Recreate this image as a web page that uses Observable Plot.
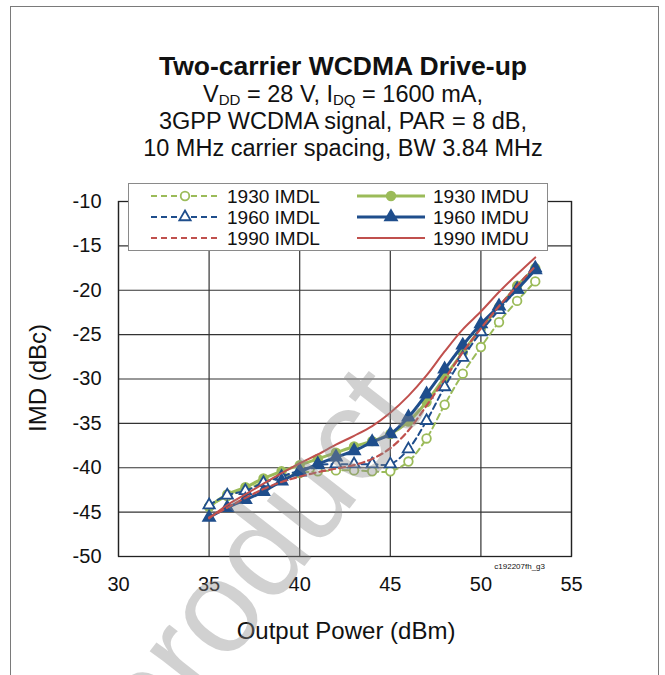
<!DOCTYPE html>
<html><head><meta charset="utf-8">
<script src="https://cdn.jsdelivr.net/npm/d3@7"></script>
<script src="https://cdn.jsdelivr.net/npm/@observablehq/plot@0.6"></script>
<style>
html,body{margin:0;padding:0;background:#fff;}
body{width:665px;height:675px;overflow:hidden;position:relative;font-family:"Liberation Sans",Arial,sans-serif;color:#111;}
#border{position:absolute;left:10px;top:6px;width:649px;height:720px;border:1px solid #7a7a7a;box-sizing:border-box;}
#chart{position:absolute;left:0;top:0;}
#title{position:absolute;left:21px;width:644px;top:51px;text-align:center;}
#title .t{font-weight:bold;font-size:26.5px;line-height:30px;}
#title .s{font-size:23.5px;line-height:27px;}
#title sub{font-size:0.64em;vertical-align:-0.2em;line-height:0;}
#ylab{position:absolute;left:38px;top:378px;transform:translate(-50%,-50%) rotate(-90deg);font-size:24px;white-space:nowrap;}
#xlab{position:absolute;left:346px;top:631px;transform:translate(-50%,-50%);font-size:24px;white-space:nowrap;}
#cap{position:absolute;left:440px;width:105px;top:562px;text-align:right;font-size:8px;}
#legend{position:absolute;left:0;top:0;}
#wm{position:absolute;left:0;top:0;pointer-events:none;}
</style></head><body>
<div id="border"></div>
<div id="chart"></div>
<div id="title">
  <div class="t">Two-carrier WCDMA Drive-up</div>
  <div class="s">V<sub>DD</sub> = 28 V, I<sub>DQ</sub> = 1600 mA,</div>
  <div class="s">3GPP WCDMA signal, PAR = 8 dB,</div>
  <div class="s">10 MHz carrier spacing, BW 3.84 MHz</div>
</div>
<div id="ylab">IMD (dBc)</div>
<div id="xlab">Output Power (dBm)</div>
<div id="cap">c192207fh_g3</div>
<svg id="legend" width="665" height="675"></svg>
<svg id="wm" width="665" height="675"></svg>
<script>
// ---- data ----
const powerDbm = [35,36,37,38,39,40,41,42,43,44,45,46,47,48,49,50,51,52,53];
const imdl1930 = [-44.4,-43.2,-42.5,-41.6,-41.0,-40.6,-40.4,-40.3,-40.3,-40.4,-40.4,-39.3,-36.7,-32.9,-29.4,-26.4,-23.6,-21.2,-19.0];
const imdu1930 = [-44.4,-43.0,-42.2,-41.2,-40.4,-39.7,-39.0,-38.3,-37.6,-37.0,-36.2,-34.8,-32.6,-29.8,-27.0,-24.3,-21.9,-19.5,-17.5];
const imdl1960 = [-44.2,-43.1,-42.6,-41.7,-41.0,-40.3,-39.7,-39.6,-39.6,-39.6,-39.6,-37.9,-34.7,-30.9,-27.6,-24.7,-22.2,-19.9,-17.5];
const imdu1960 = [-45.6,-44.5,-43.6,-42.7,-41.5,-40.5,-39.6,-38.8,-38.1,-37.1,-36.2,-34.3,-31.7,-28.9,-26.2,-23.8,-21.8,-19.9,-17.7];
const imdl1990 = [-45.6,-44.5,-43.4,-42.4,-41.6,-41.0,-40.5,-40.1,-39.7,-39.0,-37.8,-35.8,-33.0,-30.0,-27.0,-24.3,-21.8,-19.5,-17.3];
const imdu1990 = [-45.7,-44.2,-43.0,-41.8,-40.6,-39.5,-38.5,-37.4,-36.4,-35.3,-33.8,-31.9,-29.6,-26.9,-24.4,-22.4,-20.2,-18.2,-16.3];
const seriesNames = ["1930 IMDL","1930 IMDU","1960 IMDL","1960 IMDU","1990 IMDL","1990 IMDU"];
const xTicks = [30,35,40,45,50,55];
const yTicks = [-50,-45,-40,-35,-30,-25,-20,-15,-10];
const yTickLabels = ["-50","-45","-40","-35","-30","-25","-20","-15","-10"];

// ---- styles ----
const GREEN = "#9bbb59", BLUE = "#1f4e8c", RED = "#c0504d";
const styles = {
  "1930 IMDL": {color: GREEN, width: 2, dash: "6,4", symbol: "circle", fill: "white", r: 4.3},
  "1930 IMDU": {color: GREEN, width: 3, dash: null, symbol: "circle", fill: GREEN, r: 4.3},
  "1960 IMDL": {color: BLUE, width: 2, dash: "6,4", symbol: "triangle", fill: "white", r: 4.2},
  "1960 IMDU": {color: BLUE, width: 3, dash: null, symbol: "triangle", fill: BLUE, r: 4.4},
  "1990 IMDL": {color: RED, width: 2.2, dash: "6,4", symbol: null},
  "1990 IMDU": {color: RED, width: 2, dash: null, symbol: null}
};
const valuesBySeries = [imdl1930, imdu1930, imdl1960, imdu1960, imdl1990, imdu1990];
const table = seriesNames.map((name, k) => powerDbm.map((p, i) => ({series: name, p, v: valuesBySeries[k][i]})));

const marks = [
  Plot.gridX(xTicks, {stroke: "#333", strokeOpacity: 1, strokeWidth: 1.2}),
  Plot.gridY(yTicks, {stroke: "#333", strokeOpacity: 1, strokeWidth: 1.2}),
  Plot.frame({stroke: "#222", strokeWidth: 1.3}),
  Plot.axisX(xTicks, {tickSize: 0, tickPadding: 20, label: null, fontSize: 20}),
  Plot.axisY(yTicks, {tickSize: 0, tickPadding: 17, label: null, fontSize: 20, tickFormat: d => yTickLabels[yTicks.indexOf(d)]})
];
seriesNames.forEach((name, k) => {
  const st = styles[name];
  marks.push(Plot.line(table[k], {x: "p", y: "v", stroke: st.color, strokeWidth: st.width, strokeDasharray: st.dash, curve: "catmull-rom"}));
  if (st.symbol) {
    marks.push(Plot.dot(table[k], {x: "p", y: "v", symbol: st.symbol, r: st.r, fill: st.fill, stroke: st.color, strokeWidth: 1.8}));
  }
});

const chart = Plot.plot({
  width: 665, height: 675,
  marginTop: 201, marginBottom: 119, marginLeft: 118, marginRight: 94,
  style: {fontFamily: "'Liberation Sans', Arial, sans-serif", fontSize: "20px", color: "#111", background: "transparent", overflow: "visible"},
  x: {domain: [30, 55]},
  y: {domain: [-50, -10]},
  marks
});
document.getElementById("chart").appendChild(chart);

// ---- legend ----
const lg = d3.select("#legend");
lg.append("rect").attr("x", 128.5).attr("y", 183.5).attr("width", 419).attr("height", 67)
  .attr("fill", "white").attr("stroke", "#8a8a8a").attr("stroke-width", 1);
const legendCols = [151, 357];
const legendRows = [196, 217, 238];
seriesNames.forEach((name, k) => {
  const st = styles[name];
  const col = legendCols[k % 2], rowY = legendRows[Math.floor(k / 2)];
  const g = lg.append("g");
  g.append("line").attr("x1", col).attr("x2", col + 68).attr("y1", rowY).attr("y2", rowY)
    .attr("stroke", st.color).attr("stroke-width", st.width).attr("stroke-dasharray", st.dash);
  if (st.symbol) {
    const sym = st.symbol === "circle" ? d3.symbolCircle : d3.symbolTriangle;
    const size = Math.PI * st.r * st.r;
    g.append("path").attr("d", d3.symbol(sym, size)()).attr("transform", `translate(${col + 34},${rowY})`)
      .attr("fill", st.fill).attr("stroke", st.color).attr("stroke-width", 1.8);
  }
  g.append("text").attr("x", col + 76).attr("y", rowY).attr("dy", "0.35em")
    .attr("font-size", 19).attr("fill", "#111").attr("font-family", "'Liberation Sans', Arial, sans-serif").text(name);
});

// ---- watermark ----
d3.select("#wm").append("text").attr("x", 0).attr("y", 0)
  .attr("transform", "translate(425,412) rotate(-52)")
  .attr("text-anchor", "end").attr("font-size", 132).attr("font-family", "'Liberation Sans', Arial, sans-serif")
  .attr("fill", "rgb(140,140,140)").attr("fill-opacity", 0.4).text("product");
</script>
</body></html>
